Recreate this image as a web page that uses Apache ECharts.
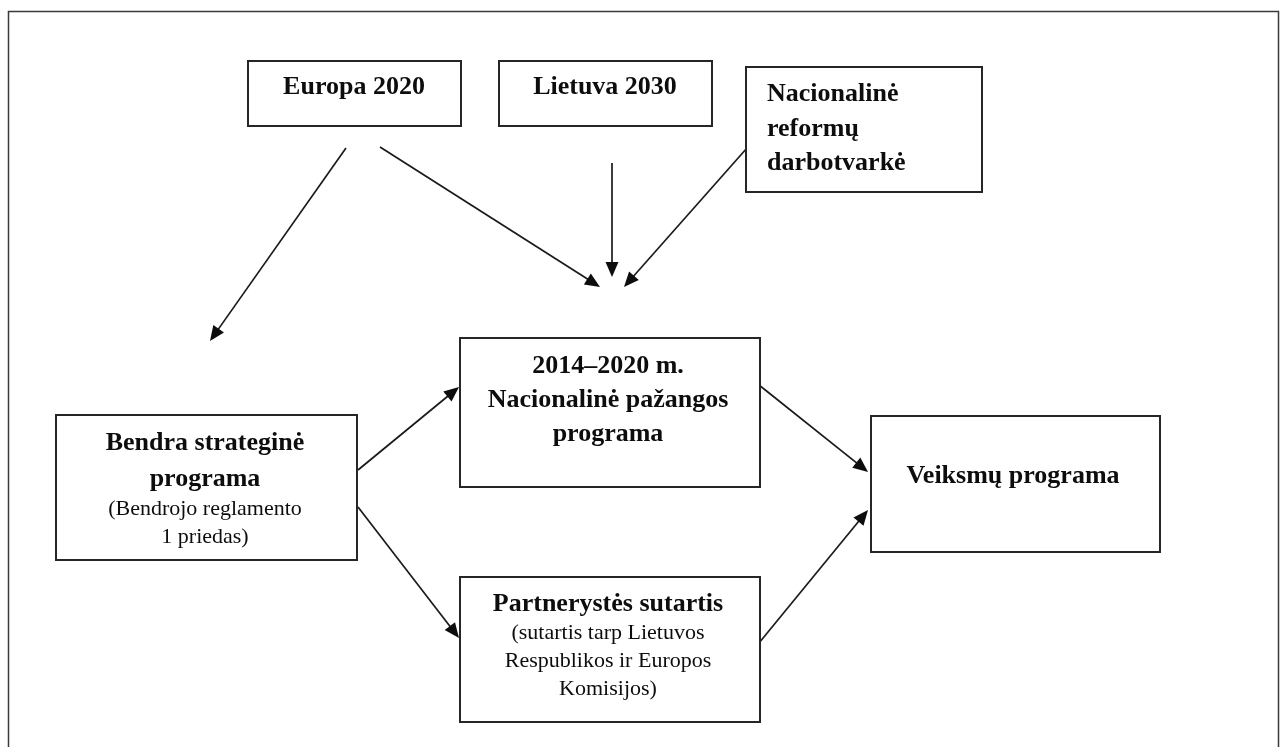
<!DOCTYPE html>
<html>
<head>
<meta charset="utf-8">
<script src="https://cdn.jsdelivr.net/npm/echarts@6/dist/echarts.min.js"></script>
<style>
html,body{margin:0;padding:0;background:#ffffff;}
#c{width:1285px;height:747px;}
</style>
</head>
<body>
<div id="c"></div>
<script>
// ---- diagram content ----
const boxNames = ['Europa 2020', 'Lietuva 2030', 'Nacionalinė reformų darbotvarkė',
  '2014–2020 m. Nacionalinė pažangos programa', 'Bendra strateginė programa',
  'Partnerystės sutartis', 'Veiksmų programa'];

// text lines of each box: [text, isBold]
const boxTexts = [
  [['Europa 2020', 1]],
  [['Lietuva 2030', 1]],
  [['Nacionalinė', 1], ['reformų', 1], ['darbotvarkė', 1]],
  [['2014–2020 m.', 1], ['Nacionalinė pažangos', 1], ['programa', 1]],
  [['Bendra strateginė', 1], ['programa', 1], ['(Bendrojo reglamento', 0], ['1 priedas)', 0]],
  [['Partnerystės sutartis', 1], ['(sutartis tarp Lietuvos', 0], ['Respublikos ir Europos', 0], ['Komisijos)', 0]],
  [['Veiksmų programa', 1]]
];

// ---- layout (diagram units, mapped through the hidden axes) ----
const boxRects = [
  [248, 61, 461, 126],
  [499, 61, 712, 126],
  [746, 67, 982, 192],
  [460, 338, 760, 487],
  [56, 415, 357, 560],
  [460, 577, 760, 722],
  [871, 416, 1160, 552]
];
const textAnchorX = [354, 605, 767, 608, 205, 608, 1013];
const textAlign = ['center', 'center', 'left', 'center', 'center', 'center', 'center'];
const textBaselines = [
  [96], [96], [103, 138, 172], [375, 409, 443], [452, 488, 517, 545], [613, 641, 669, 697], [485]
];

// arrows: [fromX, fromY, toX, toY]
const arrowFrom = [[346, 148], [380, 147], [612, 163], [747, 148], [358, 470], [358, 507], [759, 385], [759, 643]];
const arrowTo   = [[210, 341], [600, 287], [612, 277], [624, 287], [459, 387], [459, 638], [868, 472], [868, 510]];

const FONT = '"Liberation Serif", "Times New Roman", serif';

const boxData = boxRects.map((r, i) => ({ name: boxNames[i], value: r }));
const arrowData = arrowFrom.map((f, i) => ({ value: [f[0], f[1], arrowTo[i][0], arrowTo[i][1]] }));

function renderBox(params, api) {
  const i = params.dataIndex;
  const p0 = api.coord([api.value(0), api.value(1)]);
  const p1 = api.coord([api.value(2), api.value(3)]);
  const children = [{
    type: 'rect',
    shape: { x: p0[0], y: p0[1], width: p1[0] - p0[0], height: p1[1] - p0[1] },
    style: { fill: '#ffffff', stroke: '#262626', lineWidth: 2 }
  }];
  boxTexts[i].forEach((ln, k) => {
    const size = ln[1] ? 26 : 22;
    const pt = api.coord([textAnchorX[i], textBaselines[i][k]]);
    children.push({
      type: 'text',
      style: {
        text: ln[0],
        x: pt[0],
        y: pt[1] - size * 0.34,
        fill: '#0d0d0d',
        font: (ln[1] ? 'bold ' : '') + size + 'px ' + FONT,
        align: textAlign[i],
        verticalAlign: 'middle'
      }
    });
  });
  return { type: 'group', children: children };
}

function renderArrow(params, api) {
  const p0 = api.coord([api.value(0), api.value(1)]);
  const p1 = api.coord([api.value(2), api.value(3)]);
  const dx = p1[0] - p0[0], dy = p1[1] - p0[1];
  const L = Math.hypot(dx, dy), ux = dx / L, uy = dy / L;
  const hl = 15, hw = 6.5;
  const bx = p1[0] - ux * hl, by = p1[1] - uy * hl;
  return {
    type: 'group',
    children: [
      { type: 'line', shape: { x1: p0[0], y1: p0[1], x2: bx + ux * 2, y2: by + uy * 2 },
        style: { stroke: '#1a1a1a', lineWidth: 1.7 } },
      { type: 'polygon', shape: { points: [[p1[0], p1[1]], [bx - uy * hw, by + ux * hw], [bx + uy * hw, by - ux * hw]] },
        style: { fill: '#0d0d0d' } }
    ]
  };
}

const chart = echarts.init(document.getElementById('c'), null, { renderer: 'canvas' });
chart.setOption({
  animation: false,
  backgroundColor: '#ffffff',
  grid: { left: 0, right: 0, top: 0, bottom: 0 },
  xAxis: { type: 'value', min: 0, max: 1285, show: false },
  yAxis: { type: 'value', min: 0, max: 747, inverse: true, show: false },
  graphic: [{
    type: 'rect', left: 6, top: 9, z: -10,
    shape: { width: 1270, height: 760 },
    style: { fill: 'none', stroke: '#3a3a3a', lineWidth: 1.5 }
  }],
  series: [
    { type: 'custom', name: 'arrows', renderItem: renderArrow, data: arrowData, clip: false, silent: true, z: 2 },
    { type: 'custom', name: 'boxes', renderItem: renderBox, data: boxData, clip: false, silent: true, z: 3 }
  ]
});
</script>
</body>
</html>
